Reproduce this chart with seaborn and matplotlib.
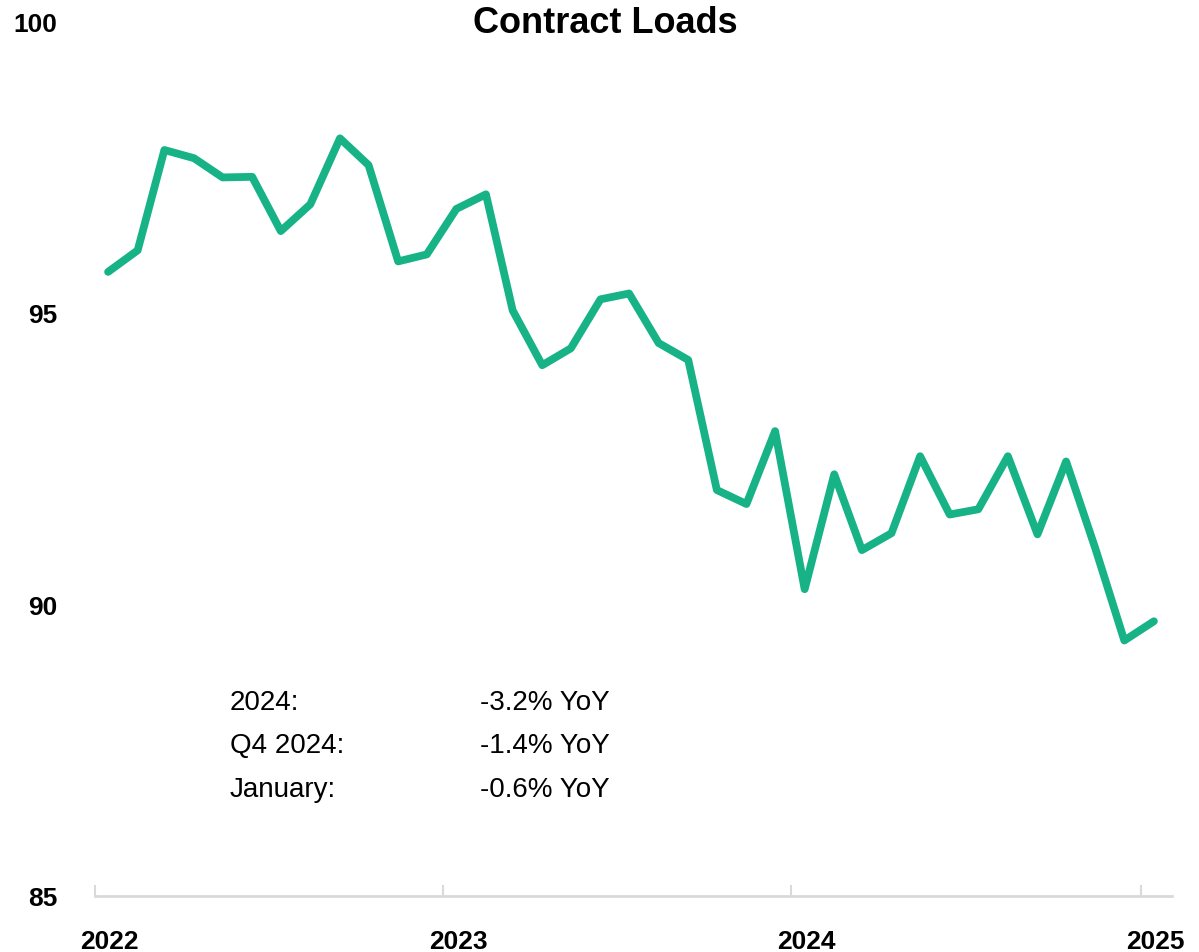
import matplotlib
matplotlib.use("Agg")
import matplotlib.pyplot as plt
from matplotlib.transforms import ScaledTranslation
import pandas as pd
import seaborn as sns

# Monthly contract load index, Jan 2022 .. Jan 2025
months = pd.date_range("2022-01-01", "2025-01-01", freq="MS") + pd.Timedelta(days=14)
loads = [
    95.70, 96.07, 97.79, 97.65, 97.32, 97.33, 96.40, 96.86, 97.99, 97.53, 95.88, 96.00,
    96.78, 97.03, 95.04, 94.10, 94.39, 95.23, 95.33, 94.48, 94.19, 91.96, 91.72, 92.97,
    90.26, 92.23, 90.93, 91.22, 92.54, 91.54, 91.63, 92.54, 91.20, 92.45, 90.94, 89.38,
    89.71,
]
year_ticks = ["2022", "2023", "2024", "2025"]
y_ticks = [85, 90, 95, 100]
stat_labels = ["2024:", "Q4 2024:", "January:"]
stat_values = ["-3.2% YoY", "-1.4% YoY", "-0.6% YoY"]

df = pd.DataFrame({"month": months, "loads": loads})

sns.set_style("white")
plt.rcParams["font.family"] = ["Liberation Sans", "DejaVu Sans"]
plt.rcParams["text.color"] = "black"
plt.rcParams["xtick.color"] = "black"
plt.rcParams["ytick.color"] = "black"

fig = plt.figure(figsize=(11.99, 9.53), dpi=100)
ax = fig.add_axes([0.079, 0.0588, 0.8985, 0.918])

sns.lineplot(data=df, x="month", y="loads", ax=ax, color="#17b387",
             linewidth=5.6, solid_joinstyle="round", solid_capstyle="round")

ax.set_ylim(85, 100)
ax.set_xlim(pd.Timestamp("2022-01-01"), pd.Timestamp("2025-02-03"))
ax.set_yticks(y_ticks)
ax.set_yticklabels([str(v) for v in y_ticks], fontsize=19, fontweight="bold")
ax.set_xticks([pd.Timestamp(f"{y}-01-01") for y in year_ticks])
ax.set_xticklabels(year_ticks, fontsize=19, fontweight="bold")
ax.set_xlabel("")
ax.set_ylabel("")

ax.tick_params(axis="y", left=False, length=0, pad=27, labelcolor="black")
ax.tick_params(axis="x", bottom=True, direction="in", length=8, width=1.5,
               color="#d9d9d9", pad=24, labelcolor="black")
for lab in ax.get_xticklabels():
    lab.set_transform(lab.get_transform() + ScaledTranslation(0.15, 0, fig.dpi_scale_trans))

for side in ["left", "top", "right"]:
    ax.spines[side].set_visible(False)
ax.spines["bottom"].set_color("#d9d9d9")
ax.spines["bottom"].set_linewidth(2)

fig.text(0.505, 0.975, "Contract Loads", ha="center", va="center",
         fontsize=26, fontweight="bold", color="black")

row_y = [0.2137, 0.1646, 0.1143]
for yy, lab, val in zip(row_y, stat_labels, stat_values):
    ax.text(0.1253, yy, lab, transform=ax.transAxes, fontsize=20, va="baseline",
            ha="left", color="black")
    ax.text(0.358, yy, val, transform=ax.transAxes, fontsize=20, va="baseline",
            ha="left", color="black")

fig.savefig("out.png", dpi=100)
